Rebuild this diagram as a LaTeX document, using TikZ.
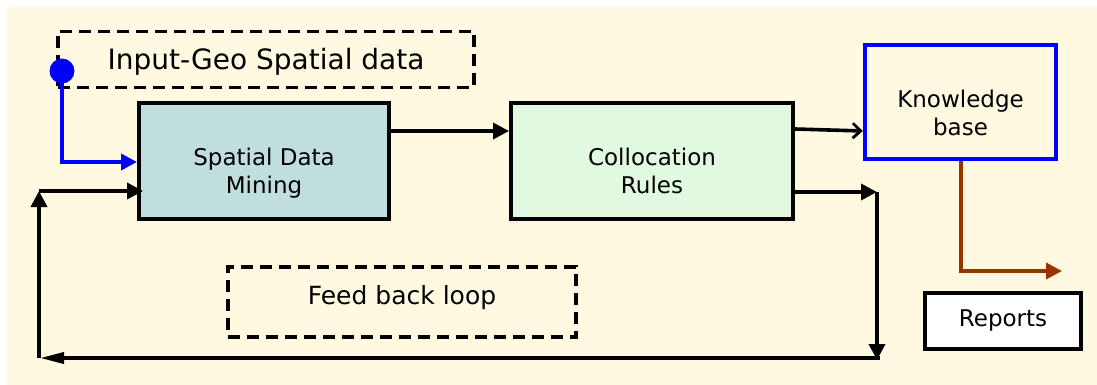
\documentclass[tikz,border=0pt]{standalone}
\usepackage{fontspec}
\setmainfont{DejaVu Sans}
\usetikzlibrary{arrows.meta}

\definecolor{cream}{HTML}{FFF9E1}
\definecolor{sdmfill}{HTML}{C0DEDD}
\definecolor{crfill}{HTML}{E2F9E1}
\definecolor{kbblue}{HTML}{0000FF}
\definecolor{rust}{HTML}{993300}

\tikzset{
  box/.style={draw=black, line width=4pt, inner sep=0pt, rectangle},
  dashbox/.style={draw=black, line width=3.8pt, inner sep=0pt, rectangle,
    dash pattern=on 12pt off 7pt},
  boxtext/.style={inner sep=0pt, align=center, anchor=north,
    font=\fontsize{23}{28}\selectfont},
  flow/.style={line width=3.6pt, -{Triangle[length=16pt,width=16pt]}},
}

\begin{document}
\begin{tikzpicture}[x=1pt,y=-1pt]
  % page and cream panel
  \useasboundingbox (0,0) rectangle (1097,385);
  \fill[white] (0,0) rectangle (1097,385);
  \fill[cream] (7,7) rectangle (1097,385);

  % boxes
  \node[dashbox, minimum width=416pt, minimum height=56pt] (inp) at (266,59.5) {};
  \node[anchor=base, inner sep=0pt, font=\fontsize{28}{34}\selectfont] (inpt) at (266,70) {Input-Geo Spatial data};

  \node[box, fill=sdmfill, minimum width=250pt, minimum height=116pt] (sdm) at (264,161) {};
  \node[boxtext] (sdmt) at (264,147.5) {Spatial Data\\Mining};

  \node[box, fill=crfill, minimum width=282pt, minimum height=116pt] (cr) at (652,161) {};
  \node[boxtext] (crt) at (652,147.5) {Collocation\\Rules};

  \node[box, draw=kbblue, line width=4.5pt, fill=cream, minimum width=191pt, minimum height=114pt] (kb) at (960.5,102) {};
  \node[boxtext] (kbt) at (960.5,89.5) {Knowledge\\base};

  \node[dashbox, minimum width=348pt, minimum height=70pt] (fb) at (402,302) {};
  \node[anchor=base, inner sep=0pt, font=\fontsize{25}{30}\selectfont] (fbt) at (402,304) {Feed back loop};

  \node[box, fill=white, minimum width=156pt, minimum height=56pt] (rep) at (1003,321) {};
  \node[anchor=base, inner sep=0pt, font=\fontsize{23}{28}\selectfont] (rept) at (1003,326) {Reports};

  % routing points
  \coordinate (dot) at (62,71);
  \coordinate (bend) at (62,162);
  \coordinate (kbdown) at (961,271);
  \coordinate (kbout) at (1062,271);
  \coordinate (crout) at (877,192);
  \coordinate (loopr) at (877,358);
  \coordinate (loopre) at (880,358);
  \coordinate (loopl) at (39,358);
  \coordinate (loopul) at (39,191);

  % input feed
  \draw[flow, draw=kbblue] (dot) -- (bend) -- (sdm.west |- bend);
  \fill[kbblue] (dot) circle (12.5pt);

  % main flow
  \draw[flow] (sdm.east |- 0,131) -- (cr.west |- 0,131);
  \draw[line width=3.6pt, -{Straight Barb[length=8pt,width=15pt,line width=2.8pt]}]
    (cr.east |- 0,129) -- (kb.west |- 0,131);

  % output to reports
  \draw[flow, draw=rust] (kb.south -| kbdown) -- (kbdown) -- (kbout);

  % feedback loop
  \draw[flow] (cr.east |- crout) -- (crout);
  \draw[flow] (crout) -- ([yshift=-2pt]loopr);
  \draw[line width=3.6pt, -{Triangle[length=24pt,width=11pt]}] (loopre) -- ([xshift=1pt]loopl);
  \draw[line width=3.6pt, -{Triangle[length=16pt,width=16pt]}] (loopl) -- (loopul);
  \draw[flow] (loopul) -- ([xshift=6pt]sdm.west |- loopul);
\end{tikzpicture}
\end{document}
